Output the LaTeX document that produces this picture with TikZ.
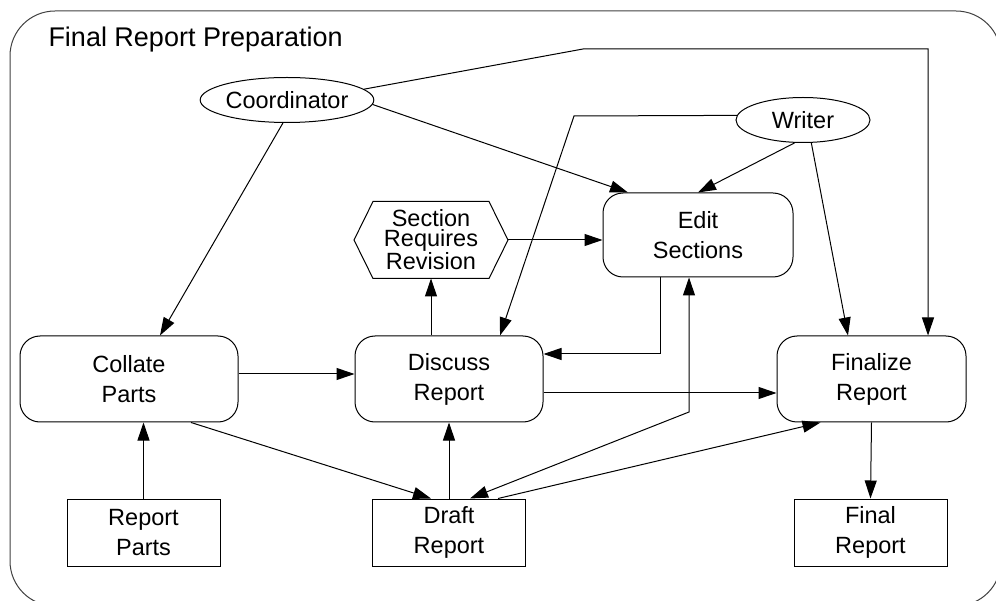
\documentclass[tikz,border=0pt]{standalone}
\usepackage{fontspec}
\setmainfont{Liberation Sans}
\usetikzlibrary{arrows.meta,shapes.geometric}

\begin{document}
\begin{tikzpicture}[x=1pt,y=-1pt,line width=1pt,
  every node/.style={font=\fontsize{23.5}{30}\selectfont, align=center, inner sep=0pt},
  proc/.style={draw, rounded corners=20pt, minimum width=#1, minimum height=86pt},
  store/.style={draw, minimum width=153pt, minimum height=67pt},
  actor/.style={draw, ellipse, minimum width=#1, minimum height=45pt},
  flow/.style={-{Triangle[length=18pt,width=12pt]}},
  twoway/.style={{Triangle[length=18pt,width=12pt]}-{Triangle[length=18pt,width=12pt]}}]

\useasboundingbox (0,0) rectangle (996,601);
\clip (0,0) rectangle (996,601);

% outer frame
\draw[black!75, rounded corners=45pt] (10,11) rectangle (1001,606);
\node[anchor=base west, font=\fontsize{27}{32}\selectfont] (title) at (48,47) {Final Report Preparation};

% actors
\node[actor=136pt] (coord) at (287,100) {Coordinator};
\node[actor=134pt] (writer) at (803,120) {Writer};

% processes
\node[proc=190pt, minimum height=84pt] (edit) at (698,235) {Edit\\Sections};
\node[proc=218pt] (collate) at (129,379) {Collate\\Parts};
\node[proc=188pt] (discuss) at (449,379) {Discuss\\Report};
\node[proc=189pt] (finalize) at (871.5,379) {Finalize\\Report};

% condition (hexagon)
\node[minimum width=153pt, minimum height=76pt, font=\fontsize{23.5}{20}\selectfont] (hex) at (431,240) {Section\\Requires\\Revision};
\draw (hex.west) -- ([xshift=19pt]hex.north west) -- ([xshift=-19pt]hex.north east)
  -- (hex.east) -- ([xshift=-19pt]hex.south east) -- ([xshift=19pt]hex.south west) -- cycle;

% documents
\node[store] (rparts) at (143.5,532.5) {Report\\Parts};
\node[store] (draft) at (449,532.5) {Draft\\Report};
\node[store] (final) at (870.5,532.5) {Final\\Report};

% bend points
\coordinate (cbend) at (583,49);
\coordinate (wbend) at (574,116);
\coordinate (dbend) at (689,412);

% connectors
\draw[flow] (coord.-100) -- ([xshift=31pt]collate.north);
\draw[flow] (coord.-3) -- ([xshift=-70pt]edit.north);
\draw[flow] (coord.8) -- (cbend) -| ([xshift=56.5pt]finalize.north);
\draw[flow] (writer.-110) -- (edit.north);
\draw[flow] (writer.-70) -- ([xshift=-23.5pt]finalize.north);
\draw[flow] (writer.176) -- (wbend) -- ([xshift=51pt]discuss.north);
\draw[flow] (hex.east) -- (hex.east -| edit.west);
\draw[flow] (hex.south |- discuss.north) -- (hex.south);
\draw[flow] ([xshift=-38pt]edit.south) |- ([yshift=25pt]discuss.east);
\draw[flow] ([yshift=5pt]collate.east) -- ([yshift=5pt]discuss.west);
\draw[flow] ([yshift=-14pt]discuss.east) -- ([yshift=-14pt]finalize.west);
\draw[flow] ([xshift=62pt]collate.south) -- ([xshift=-18pt]draft.north);
\draw[flow] (draft.north) -- (discuss.south);
\draw[flow] (rparts.north) -- (rparts.north |- collate.south);
\draw[twoway] ([xshift=21pt]draft.north) -- (dbend) -- ([xshift=-9pt]edit.south);
\draw[flow] ([xshift=49pt]draft.north) -- ([xshift=-51pt]finalize.south);
\draw[flow] (finalize.south) -- (final.north);
\end{tikzpicture}
\end{document}
